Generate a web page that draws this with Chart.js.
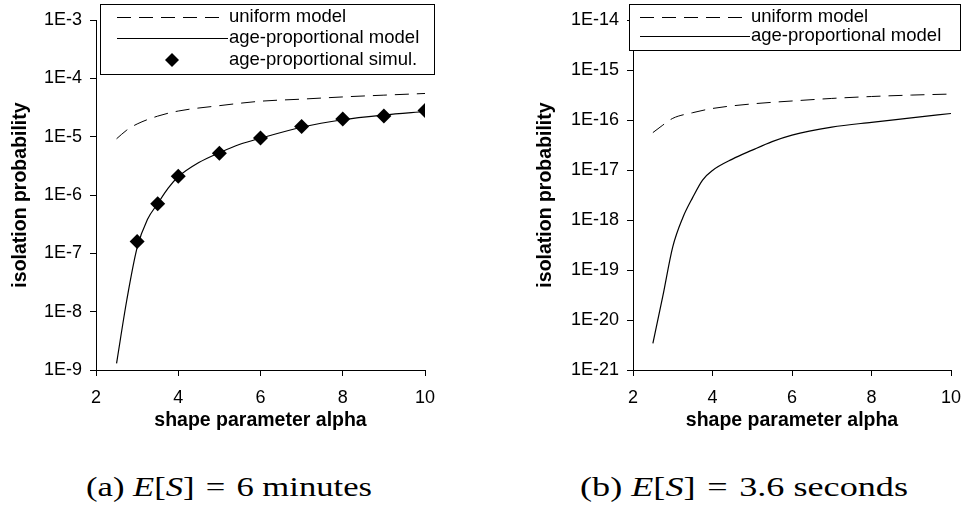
<!DOCTYPE html>
<html>
<head>
<meta charset="utf-8">
<script src="https://cdn.jsdelivr.net/npm/chart.js@4.4.1/dist/chart.umd.min.js"></script>
<style>
  html, body { margin:0; padding:0; background:#fff; }
  #wrap { position:relative; width:966px; height:510px; overflow:hidden; background:#fff; }
  canvas { position:absolute; top:0; }
  .cap { position:absolute; top:469px; font-family:"Liberation Serif", serif; font-size:28px; color:#000; white-space:nowrap; line-height:36px; transform-origin:0 50%; }
  .cap i { font-style:italic; }
  .eq { margin:0 9px; }
</style>
</head>
<body>
<div id="wrap">
  <canvas id="chartA" width="483" height="440" style="left:0px"></canvas>
  <canvas id="chartB" width="483" height="440" style="left:483px"></canvas>
  <div class="cap" id="capA" data-w="286" style="left:86px">(a) <i>E</i>[<i>S</i>]<span class="eq">=</span>6 minutes</div>
  <div class="cap" id="capB" data-w="328" style="left:580px">(b) <i>E</i>[<i>S</i>]<span class="eq">=</span>3.6 seconds</div>
</div>
<script>
// ---- data ----
const xTicks = [2, 4, 6, 8, 10];
const yTicksA = [1e-9, 1e-8, 1e-7, 1e-6, 1e-5, 1e-4, 1e-3];
const yTicksB = [1e-21, 1e-20, 1e-19, 1e-18, 1e-17, 1e-16, 1e-15, 1e-14];

const seriesLabels = ["uniform model", "age-proportional model", "age-proportional simul."];

const alphaUniform = [2.5, 2.75, 3, 3.5, 4, 5, 6, 7, 8, 9, 10];
const alphaModel   = [2.5, 2.75, 3, 3.25, 3.5, 3.75, 4, 4.5, 5, 5.5, 6, 7, 8, 9, 10];
const alphaSimul   = [3, 3.5, 4, 5, 6, 7, 8, 9, 10];

// (a) E[S] = 6 minutes
const uniformA  = [9.2e-6, 1.3e-5, 1.65e-5, 2.25e-5, 2.75e-5, 3.4e-5, 4.05e-5, 4.4e-5, 4.8e-5, 5.15e-5, 5.5e-5];
const ageModelA = [1.3e-9, 1.6e-8, 1.25e-7, 3.8e-7, 7.1e-7, 1.3e-6, 2.05e-6, 3.6e-6, 5.3e-6, 7.4e-6, 9.4e-6, 1.45e-5, 1.95e-5, 2.35e-5, 2.7e-5];
const ageSimulA = [1.6e-7, 7.1e-7, 2.1e-6, 5.2e-6, 9.5e-6, 1.5e-5, 2.0e-5, 2.25e-5, 2.8e-5];

// (b) E[S] = 3.6 seconds
const uniformB  = [5.6e-17, 7.9e-17, 1.08e-16, 1.4e-16, 1.7e-16, 2.1e-16, 2.4e-16, 2.7e-16, 2.95e-16, 3.15e-16, 3.3e-16];
const ageModelB = [3.4e-21, 3.0e-20, 2.9e-19, 1.1e-18, 2.8e-18, 6.3e-18, 9.8e-18, 1.65e-17, 2.5e-17, 3.7e-17, 5.0e-17, 7.2e-17, 9.0e-17, 1.1e-16, 1.35e-16];

// ---- helpers ----
const pts = (xs, ys) => xs.map((x, i) => ({x: x, y: ys[i]}));
const TICK_FONT = {family: "'Liberation Sans', Arial, sans-serif", size: 18};
const TITLE_FONT = {family: "'Liberation Sans', Arial, sans-serif", size: 19.5, weight: 'bold'};
const DASH = [14, 8];

const boxLegend = {
  id: 'boxLegend',
  afterDraw(chart, args, opts) {
    const ctx = chart.ctx;
    ctx.save();
    ctx.fillStyle = '#fff';
    ctx.fillRect(opts.x, opts.y, opts.w, opts.h);
    ctx.strokeStyle = '#000';
    ctx.lineWidth = 1;
    ctx.setLineDash([]);
    ctx.strokeRect(opts.x, opts.y, opts.w, opts.h);
    ctx.font = "18.5px 'Liberation Sans', Arial, sans-serif";
    ctx.textBaseline = 'middle';
    ctx.textAlign = 'left';
    chart.data.datasets.forEach((ds, i) => {
      const ry = opts.rows[i];
      if (ds.showLine === false) {
        const r = 7, cx = opts.markerX;
        ctx.fillStyle = '#000';
        ctx.beginPath();
        ctx.moveTo(cx, ry - r); ctx.lineTo(cx + r, ry); ctx.lineTo(cx, ry + r); ctx.lineTo(cx - r, ry);
        ctx.closePath(); ctx.fill();
      } else {
        ctx.strokeStyle = '#000';
        ctx.lineWidth = ds.borderWidth;
        ctx.setLineDash(ds.borderDash || []);
        ctx.beginPath();
        ctx.moveTo(opts.sx0, ry + 0.5);
        ctx.lineTo(ds.borderDash && ds.borderDash.length ? opts.sx1 : opts.textX - 1, ry + 0.5);
        ctx.stroke();
        ctx.setLineDash([]);
      }
      ctx.fillStyle = '#000';
      ctx.fillText(ds.label, opts.textX, ry);
    });
    ctx.restore();
  }
};

function makeChart(id, datasets, yMin, yMax, yTicks, yWidth, padRight, titlePadTop, legendOpts) {
  return new Chart(document.getElementById(id), {
    type: 'line',
    data: {datasets: datasets},
    options: {
      responsive: false,
      animation: false,
      layout: {padding: {top: 20, right: padRight, bottom: 0, left: 0}},
      plugins: {legend: {display: false}, tooltip: {enabled: false}, boxLegend: legendOpts},
      scales: {
        x: {
          type: 'linear', min: 2, max: 10,
          afterBuildTicks: s => { s.ticks = xTicks.map(v => ({value: v})); },
          afterFit: s => { s.height = 70; s.paddingLeft = 0; s.paddingRight = 0; },
          grid: {display: true, drawOnChartArea: false, drawTicks: true, tickLength: 6, color: '#000', lineWidth: 1},
          border: {display: true, color: '#000', width: 1},
          ticks: {color: '#000', font: TICK_FONT, padding: 11, maxRotation: 0},
          title: {display: true, text: 'shape parameter alpha', color: '#000', font: TITLE_FONT, padding: {top: 0, bottom: 8}}
        },
        y: {
          type: 'logarithmic', min: yMin, max: yMax,
          afterBuildTicks: s => { s.ticks = yTicks.map(v => ({value: v})); },
          afterFit: s => { s.width = yWidth; s.paddingTop = 0; s.paddingBottom = 0; },
          grid: {display: true, drawOnChartArea: false, drawTicks: true, tickLength: 6, color: '#000', lineWidth: 1},
          border: {display: true, color: '#000', width: 1},
          ticks: {color: '#000', font: TICK_FONT, padding: 8, callback: v => '1E' + Math.round(Math.log10(v))},
          title: {display: true, text: 'isolation probability', color: '#000', font: TITLE_FONT, padding: {top: titlePadTop, bottom: 0}}
        }
      }
    },
    plugins: [boxLegend]
  });
}

const dsUniform = data => ({label: seriesLabels[0], data: data, borderColor: '#000', borderWidth: 1, borderDash: DASH, pointRadius: 0, fill: false, cubicInterpolationMode: 'monotone'});
const dsModel = data => ({label: seriesLabels[1], data: data, borderColor: '#000', borderWidth: 1.2, pointRadius: 0, fill: false, cubicInterpolationMode: 'monotone'});
const dsSimul = data => ({label: seriesLabels[2], data: data, showLine: false, pointStyle: 'rectRot', pointRadius: 7.5, backgroundColor: '#000', borderColor: '#000', borderWidth: 0});

makeChart('chartA',
  [dsUniform(pts(alphaUniform, uniformA)), dsModel(pts(alphaModel, ageModelA)), dsSimul(pts(alphaSimul, ageSimulA))],
  1e-9, 1e-3, yTicksA, 96, 58, 9,
  {x: 100.5, y: 4.5, w: 334, h: 70, rows: [17, 38, 60], sx0: 117, sx1: 220, markerX: 172, textX: 229});

makeChart('chartB',
  [dsUniform(pts(alphaUniform, uniformB)), dsModel(pts(alphaModel, ageModelB))],
  1e-21, 1e-14, yTicksB, 150, 15, 51,
  {x: 146.5, y: 4.5, w: 331, h: 46, rows: [17, 36], sx0: 157, sx1: 260, markerX: 0, textX: 268});

// fit captions to the reference widths
document.querySelectorAll('.cap').forEach(el => {
  const target = parseFloat(el.dataset.w);
  const w = el.getBoundingClientRect().width;
  el.style.transform = 'scaleX(' + (target / w).toFixed(4) + ')';
});
</script>
</body>
</html>
